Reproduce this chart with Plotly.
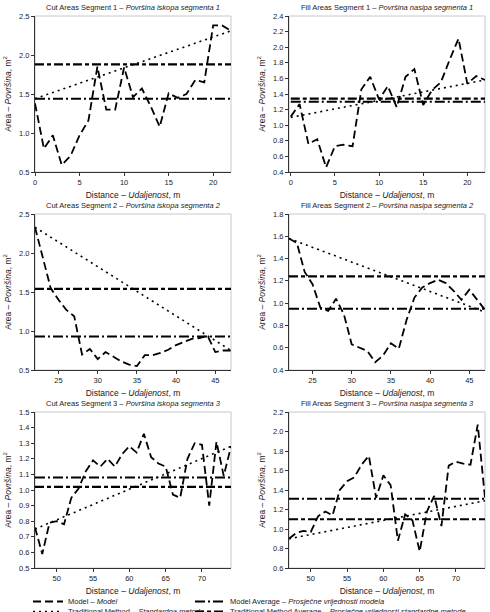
import plotly.graph_objects as go

# ---------------- data ----------------
dist_s1 = list(range(0, 23))
dist_s2 = list(range(22, 48))
dist_s3 = list(range(47, 75))

cut_s1_model = [1.38, 0.80, 0.97, 0.59, 0.71, 0.97, 1.16, 1.85, 1.30, 1.30, 1.84, 1.46,
                1.57, 1.34, 1.08, 1.51, 1.45, 1.50, 1.68, 1.65, 2.38, 2.38, 2.31]
fill_s1_model = [1.11, 1.27, 0.76, 0.82, 0.46, 0.73, 0.75, 0.73, 1.46, 1.62, 1.33, 1.50,
                 1.23, 1.62, 1.72, 1.26, 1.45, 1.55, 1.84, 2.11, 1.53, 1.63, 1.58]
cut_s2_model = [2.33, 1.95, 1.55, 1.40, 1.27, 1.19, 0.70, 0.77, 0.64, 0.73, 0.67, 0.61, 0.57,
                0.55, 0.69, 0.69, 0.72, 0.76, 0.82, 0.86, 0.90, 0.91, 0.94, 0.73, 0.75, 0.75]
fill_s2_model = [1.58, 1.54, 1.28, 1.17, 0.96, 0.93, 1.04, 0.90, 0.63, 0.60, 0.57, 0.47, 0.53,
                 0.64, 0.59, 0.85, 1.05, 1.14, 1.18, 1.21, 1.18, 1.11, 1.03, 1.12, 1.03, 0.94]
cut_s3_model = [0.76, 0.59, 0.79, 0.80, 0.78, 0.95, 1.01, 1.12, 1.19, 1.15, 1.20, 1.15, 1.23, 1.28,
                1.24, 1.36, 1.21, 1.17, 1.15, 0.97, 0.95, 1.20, 1.30, 1.29, 0.90, 1.31, 1.09, 1.28]
fill_s3_model = [0.90, 0.96, 0.98, 0.97, 1.13, 1.18, 1.14, 1.40, 1.49, 1.53, 1.66, 1.75, 1.32, 1.55,
                 1.45, 0.88, 1.15, 1.09, 0.77, 1.18, 1.34, 1.03, 1.65, 1.69, 1.67, 1.66, 2.07, 1.32]

# traditional method (straight line between end sections)
cut_s1_trad = [1.44, 2.31]
fill_s1_trad = [1.10, 1.58]
cut_s2_trad = [2.33, 0.75]
fill_s2_trad = [1.58, 0.92]
cut_s3_trad = [0.75, 1.28]
fill_s3_trad = [0.90, 1.29]

# averages
model_avg = [1.44, 1.30, 0.93, 0.95, 1.08, 1.31]
trad_avg = [1.88, 1.34, 1.54, 1.24, 1.02, 1.10]

titles = [
    "Cut Areas Segment 1 \u2013 <i>Površina iskopa segmenta 1</i>",
    "Fill Areas Segment 1 \u2013 <i>Površina nasipa segmenta 1</i>",
    "Cut Areas Segment 2 \u2013 <i>Površina iskopa segmenta 2</i>",
    "Fill Areas Segment 2 \u2013 <i>Površina nasipa segmenta 2</i>",
    "Cut Areas Segment 3 \u2013 <i>Površina iskopa segmenta 3</i>",
    "Fill Areas Segment 3 \u2013 <i>Površina nasipa segmenta 3</i>",
]
y_ranges = [(0.5, 2.5, 0.5), (0.4, 2.4, 0.2), (0.5, 2.5, 0.5),
            (0.4, 1.8, 0.2), (0.5, 1.5, 0.1), (0.6, 2.2, 0.2)]
x_ranges = [(0, 22), (-0.2, 22), (22, 47), (22, 47), (47, 74), (47, 74)]

panels = [
    (dist_s1, cut_s1_model, cut_s1_trad),
    (dist_s1, fill_s1_model, fill_s1_trad),
    (dist_s2, cut_s2_model, cut_s2_trad),
    (dist_s2, fill_s2_model, fill_s2_trad),
    (dist_s3, cut_s3_model, cut_s3_trad),
    (dist_s3, fill_s3_model, fill_s3_trad),
]

legend_names = [
    "Model \u2013 <i>Model</i>",
    "Traditional Method \u2013 <i>Standardna metoda</i>",
    "Model Average \u2013 <i>Prosječne vrijednosti modela</i>",
    "Traditional Method Average \u2013 <i>Prosječne vrijednosti standardne metode</i>",
]

# ---------------- layout geometry ----------------
W, H = 490, 612
FONT = "Liberation Sans, Arial, sans-serif"
TXT = "#222222"
col_px = [(35, 231), (289, 485)]
row_px = [(16, 172), (214, 370), (412, 568)]

MODEL_DASH = "8px,4px"
TRAD_DASH = "2px,4px"
MAVG_DASH = "10px,3px,2px,3px"
TAVG_DASH = "9px,3px,4px,3px"

fig = go.Figure()
layout = dict(
    width=W, height=H,
    margin=dict(l=0, r=0, t=0, b=0, autoexpand=False),
    paper_bgcolor="white", plot_bgcolor="white",
    font=dict(family=FONT, size=7.5, color=TXT),
    showlegend=True,
)
annotations = []
shapes = []

for i, (d, model, trad) in enumerate(panels):
    r, c = divmod(i, 2)
    ax = "" if i == 0 else str(i + 1)
    xa, ya = "x" + ax, "y" + ax
    x0p, x1p = col_px[c]
    y0p, y1p = row_px[r]
    first = i == 0

    fig.add_trace(go.Scatter(
        x=d, y=model, xaxis=xa, yaxis=ya, mode="lines",
        line=dict(color="black", width=1.8, dash=MODEL_DASH),
        name=legend_names[0], showlegend=first, legend="legend"))
    fig.add_trace(go.Scatter(
        x=[d[0], d[-1]], y=[model_avg[i], model_avg[i]], xaxis=xa, yaxis=ya, mode="lines",
        line=dict(color="black", width=2, dash=MAVG_DASH),
        name=legend_names[2], showlegend=first, legend="legend2"))
    fig.add_trace(go.Scatter(
        x=[d[0], d[-1]], y=trad, xaxis=xa, yaxis=ya, mode="lines",
        line=dict(color="black", width=1.6, dash=TRAD_DASH),
        name=legend_names[1], showlegend=first, legend="legend3"))
    fig.add_trace(go.Scatter(
        x=[d[0], d[-1]], y=[trad_avg[i], trad_avg[i]], xaxis=xa, yaxis=ya, mode="lines",
        line=dict(color="black", width=2.2, dash=TAVG_DASH),
        name=legend_names[3], showlegend=first, legend="legend4"))

    ylo, yhi, dt = y_ranges[i]
    layout["xaxis" + ax] = dict(
        domain=[x0p / W, x1p / W], anchor=ya, range=list(x_ranges[i]),
        dtick=5, tick0=0, showgrid=False, zeroline=False,
        showline=True, linecolor="#333", linewidth=1,
        ticks="outside", ticklen=3, tickcolor="#333",
        tickfont=dict(size=7.5, color=TXT),
        title=dict(text="Distance \u2013 <i>Udaljenost</i>, m",
                   font=dict(size=8.5, color=TXT), standoff=6))
    layout["yaxis" + ax] = dict(
        domain=[1 - y1p / H, 1 - y0p / H], anchor=xa, range=[ylo, yhi],
        dtick=dt, tick0=ylo, tickformat=".1f", showgrid=False, zeroline=False,
        showline=True, linecolor="#333", linewidth=1,
        ticks="outside", ticklen=3, tickcolor="#333",
        tickfont=dict(size=7.5, color=TXT),
        title=dict(text="Area \u2013 <i>Površina</i>, m<sup>2</sup>",
                   font=dict(size=8.5, color=TXT), standoff=6))
    shapes.append(dict(type="rect", xref=xa + " domain", yref=ya + " domain",
                       x0=0, x1=1, y0=0, y1=1, layer="below",
                       line=dict(color="#c8c8c8", width=1)))
    annotations.append(dict(
        text=titles[i], xref="paper", yref="paper",
        x=(x0p + x1p) / 2 / W, y=1 - (y0p - 8.5) / H, xanchor="center", yanchor="middle",
        showarrow=False, font=dict(size=7.5, color=TXT)))

layout["annotations"] = annotations
layout["shapes"] = shapes
legend_common = dict(orientation="v", xanchor="left", yanchor="top",
                     bgcolor="rgba(0,0,0,0)", font=dict(size=7.5, color=TXT),
                     itemwidth=30, tracegroupgap=0)
layout["legend"] = dict(x=28 / W, y=1 - 587 / H, **legend_common)
layout["legend2"] = dict(x=190 / W, y=1 - 587 / H, **legend_common)
layout["legend3"] = dict(x=28 / W, y=1 - 597 / H, **legend_common)
layout["legend4"] = dict(x=190 / W, y=1 - 597 / H, **legend_common)
fig.update_layout(**layout)
fig.write_html("out.html")
